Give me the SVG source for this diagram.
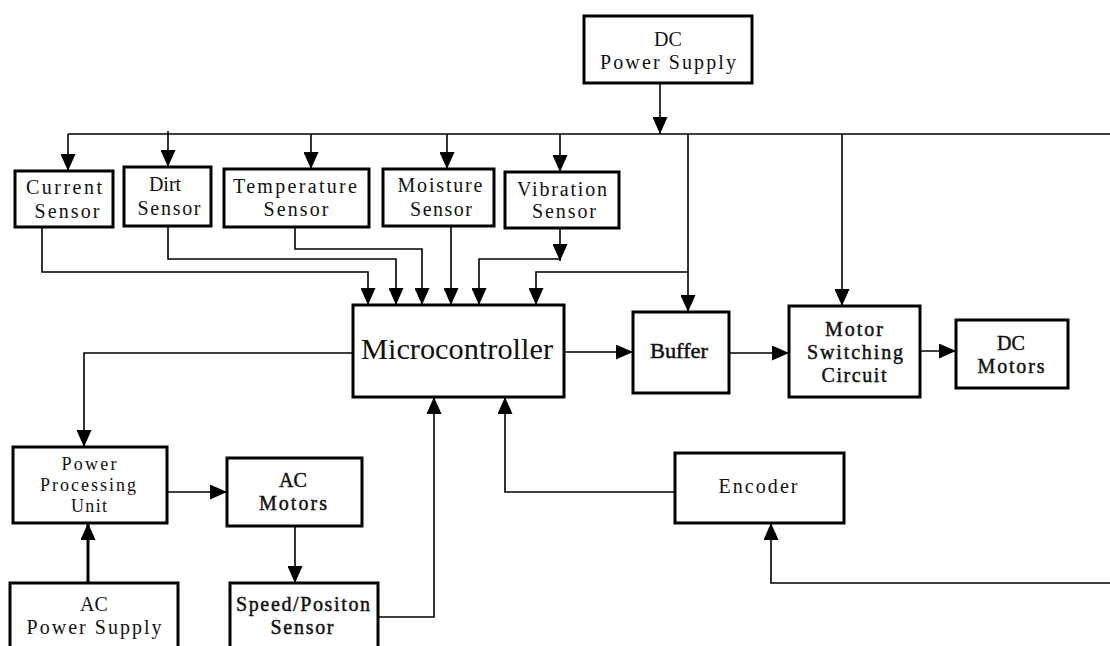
<svg xmlns="http://www.w3.org/2000/svg" width="1110" height="646" viewBox="0 0 1110 646">
<style>
.box{fill:#fff;stroke:#000;stroke-width:3}
.ln{fill:none;stroke:#000;stroke-width:1.6}
.thick{fill:none;stroke:#000;stroke-width:3}
text{font-family:"Liberation Serif","Times New Roman",serif;fill:#111;text-anchor:middle}
.t{font-size:20px}
.s{font-size:18px}
.b{font-size:20px;stroke:#111;stroke-width:0.45}
.big{font-size:30px}
</style>
<defs>
<marker id="ah" markerUnits="userSpaceOnUse" markerWidth="17" markerHeight="15" refX="17" refY="7.5" orient="auto">
<path d="M0,0 L17,7.5 L0,15 z" fill="#000"/>
</marker>
</defs>
<rect width="1110" height="646" fill="#fff"/>
<g id="connectors">
<path class="ln" d="M660,83 V134" marker-end="url(#ah)"/>
<path class="ln" d="M68,134 H1110"/>
<path class="ln" d="M68,134 V171" marker-end="url(#ah)"/>
<path class="ln" d="M168,131 V167" marker-end="url(#ah)"/>
<path class="ln" d="M311,134 V169" marker-end="url(#ah)"/>
<path class="ln" d="M447,134 V169" marker-end="url(#ah)"/>
<path class="ln" d="M560,134 V172" marker-end="url(#ah)"/>
<path class="ln" d="M688,134 V312" marker-end="url(#ah)"/>
<path class="ln" d="M842,134 V306" marker-end="url(#ah)"/>
<path class="ln" d="M688,272 H536 V305" marker-end="url(#ah)"/>
<path class="ln" d="M42,227 V272 H368 V305" marker-end="url(#ah)"/>
<path class="ln" d="M168,226 V259 H396 V305" marker-end="url(#ah)"/>
<path class="ln" d="M295,227 V249 H422 V305" marker-end="url(#ah)"/>
<path class="ln" d="M451,226 V305" marker-end="url(#ah)"/>
<path class="ln" d="M560,228 V261" marker-end="url(#ah)"/>
<path class="ln" d="M560,259 H479 V305" marker-end="url(#ah)"/>
<path class="ln" d="M564,352 H633" marker-end="url(#ah)"/>
<path class="ln" d="M729,353 H789" marker-end="url(#ah)"/>
<path class="ln" d="M920,351 H956" marker-end="url(#ah)"/>
<path class="ln" d="M353,353 H84 V447" marker-end="url(#ah)"/>
<path class="ln" d="M167,492 H227" marker-end="url(#ah)"/>
<path class="ln" d="M295,526 V583" marker-end="url(#ah)"/>
<path class="thick" d="M88,583 V523" marker-end="url(#ah)"/>
<path class="ln" d="M378,617 H434 V397" marker-end="url(#ah)"/>
<path class="ln" d="M675,492 H505 V397" marker-end="url(#ah)"/>
<path class="ln" d="M1110,583 H771 V523" marker-end="url(#ah)"/>
</g>
<g id="dc-power-supply">
<rect class="box" x="584" y="16" width="168" height="67"/>
<text class="t" x="668" y="46">DC</text>
<text class="t" x="668" y="69" textLength="136" lengthAdjust="spacing">Power Supply</text>
</g>
<g id="current-sensor">
<rect class="box" x="15" y="171" width="98" height="56"/>
<text class="t" x="64" y="194" textLength="76" lengthAdjust="spacing">Current</text>
<text class="t" x="67" y="218" textLength="65" lengthAdjust="spacing">Sensor</text>
</g>
<g id="dirt-sensor">
<rect class="box" x="124" y="167" width="87" height="59"/>
<text class="t" x="165" y="191">Dirt</text>
<text class="t" x="169" y="215" textLength="63" lengthAdjust="spacing">Sensor</text>
</g>
<g id="temperature-sensor">
<rect class="box" x="224" y="169" width="145" height="58"/>
<text class="t" x="295" y="193" textLength="124" lengthAdjust="spacing">Temperature</text>
<text class="t" x="296" y="216" textLength="65" lengthAdjust="spacing">Sensor</text>
</g>
<g id="moisture-sensor">
<rect class="box" x="383" y="169" width="111" height="57"/>
<text class="t" x="440" y="192" textLength="85" lengthAdjust="spacing">Moisture</text>
<text class="t" x="441" y="216" textLength="62" lengthAdjust="spacing">Sensor</text>
</g>
<g id="vibration-sensor">
<rect class="box" x="505" y="172" width="114" height="56"/>
<text class="t" x="562" y="196" textLength="90" lengthAdjust="spacing">Vibration</text>
<text class="t" x="564" y="218" textLength="64" lengthAdjust="spacing">Sensor</text>
</g>
<g id="microcontroller">
<rect class="box" x="353" y="305" width="211" height="92"/>
<text class="big" x="457" y="359" textLength="192" lengthAdjust="spacingAndGlyphs">Microcontroller</text>
</g>
<g id="buffer">
<rect class="box" x="633" y="312" width="96" height="81"/>
<text class="b" x="679" y="358" textLength="58" lengthAdjust="spacingAndGlyphs">Buffer</text>
</g>
<g id="motor-switching-circuit">
<rect class="box" x="789" y="306" width="131" height="91"/>
<text class="b" x="854" y="336" textLength="58" lengthAdjust="spacing">Motor</text>
<text class="b" x="855" y="359" textLength="96" lengthAdjust="spacing">Switching</text>
<text class="b" x="854" y="382" textLength="65" lengthAdjust="spacing">Circuit</text>
</g>
<g id="dc-motors">
<rect class="box" x="956" y="320" width="112" height="68"/>
<text class="b" x="1011" y="350">DC</text>
<text class="b" x="1011" y="373" textLength="67" lengthAdjust="spacing">Motors</text>
</g>
<g id="power-processing-unit">
<rect class="box" x="13" y="447" width="154" height="76"/>
<text class="s" x="89" y="470" textLength="55" lengthAdjust="spacing">Power</text>
<text class="s" x="88" y="491" textLength="96" lengthAdjust="spacing">Processing</text>
<text class="s" x="89" y="512" textLength="36" lengthAdjust="spacing">Unit</text>
</g>
<g id="ac-motors">
<rect class="box" x="227" y="458" width="135" height="68"/>
<text class="b" x="293" y="487">AC</text>
<text class="b" x="293" y="510" textLength="68" lengthAdjust="spacing">Motors</text>
</g>
<g id="ac-power-supply">
<rect class="box" x="10" y="583" width="168" height="80"/>
<text class="t" x="94" y="611">AC</text>
<text class="t" x="94" y="634" textLength="135" lengthAdjust="spacing">Power Supply</text>
</g>
<g id="speed-position-sensor">
<rect class="box" x="230" y="583" width="148" height="80"/>
<text class="b" x="303" y="611" textLength="134" lengthAdjust="spacing">Speed/Positon</text>
<text class="b" x="302" y="634" textLength="63" lengthAdjust="spacing">Sensor</text>
</g>
<g id="encoder">
<rect class="box" x="675" y="453" width="169" height="70"/>
<text class="t" x="758" y="493" textLength="79" lengthAdjust="spacing">Encoder</text>
</g>
</svg>
